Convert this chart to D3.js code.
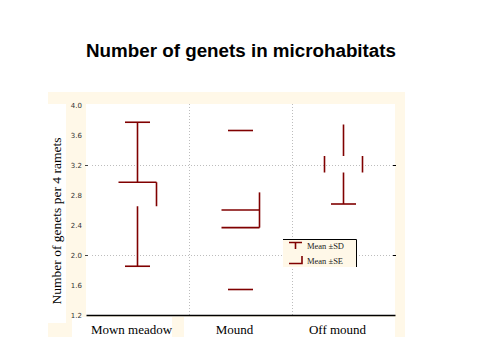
<!DOCTYPE html>
<html><head><meta charset="utf-8">
<script src="https://cdn.jsdelivr.net/npm/d3@7"></script>
<style>body{margin:0;background:#fff}svg{display:block}</style></head><body>
<script>
const categories = ["Mown meadow", "Mound", "Off mound"];
const means = [2.81, 2.60, 3.21];
const sds = [0.96, 1.06, 0.53];
const ses = [0.16, 0.235, 0.11];
const yTicks = [4.0, 3.6, 3.2, 2.8, 2.4, 2.0, 1.6, 1.2];
const gridValues = [3.2, 2.0];
const legendLabels = ["Mean ±SD", "Mean ±SE"];
const titleText = "Number of genets in microhabitats";
const yTitle = "Number of genets per 4 ramets";

// which pieces of each box are visible (as in the reference rendering)
const pieces = [
  ["topCap", "upperWhisker", "boxTop", "boxRight", "lowerWhisker", "bottomCap"],
  ["topCap", "bottomCap", "meanLine", "boxBottom", "boxRight"],
  ["upperWhisker", "boxLeft", "boxRight", "lowerWhisker", "bottomCap"]
];

const W = 480, H = 360;
const cream = "#fff8e8", red = "#800000";
const svg = d3.select("body").append("svg").attr("width", W).attr("height", H);

const pLeft = 86, pRight = 395, pTop = 104, pBottom = 315;
const x = d3.scaleBand().domain(categories).range([pLeft, pRight]).padding(0);
const y = d3.scaleLinear().domain([1.2, 4.0]).range([pBottom, 105]);

// background frame
svg.append("rect").attr("x", 48).attr("y", 92).attr("width", 357).attr("height", 245).attr("fill", cream);
svg.append("rect").attr("x", pLeft).attr("y", pTop).attr("width", pRight - pLeft).attr("height", pBottom - pTop + 1).attr("fill", "#fff");
svg.append("rect").attr("x", 48).attr("y", pTop).attr("width", 18).attr("height", 219).attr("fill", "#fff");
// label boxes
[[72, 172], [184, 292], [292, 395]].forEach(([a, b]) => {
  svg.append("rect").attr("x", a).attr("y", pBottom + 2).attr("width", b - a).attr("height", 25).attr("fill", "#fff");
});

// title
svg.append("text").attr("x", 241).attr("y", 57).attr("text-anchor", "middle")
  .attr("font-family", "Liberation Sans, Arial, sans-serif").attr("font-weight", "bold")
  .attr("font-size", 18.8).text(titleText);

// grid
const grid = svg.append("g").attr("stroke", "#bdbdbd").attr("stroke-width", 1).attr("stroke-dasharray", "1,2");
gridValues.forEach(v => {
  grid.append("line").attr("x1", pLeft + 6).attr("x2", pRight).attr("y1", Math.round(y(v)) + 0.5).attr("y2", Math.round(y(v)) + 0.5);
});
categories.slice(1).forEach(c => {
  const xx = Math.round(x(c)) + 0.5;
  grid.append("line").attr("x1", xx).attr("x2", xx).attr("y1", pTop).attr("y2", pBottom);
});
// small tick marks
gridValues.forEach(v => {
  svg.append("line").attr("x1", 85).attr("x2", 88).attr("y1", Math.round(y(v)) + 0.5).attr("y2", Math.round(y(v)) + 0.5).attr("stroke", "#444");
  svg.append("line").attr("x1", pRight - 2).attr("x2", pRight + 1).attr("y1", Math.round(y(v)) + 0.5).attr("y2", Math.round(y(v)) + 0.5).attr("stroke", "#000");
});

// y axis labels
const ya = svg.append("g").attr("transform", `translate(82,0)`)
  .call(d3.axisLeft(y).tickValues(yTicks).tickSize(0).tickPadding(0).tickFormat(d3.format(".1f")));
ya.select(".domain").remove();
ya.selectAll("text").attr("font-family", "DejaVu Sans, sans-serif").attr("font-size", 7).attr("fill", "#333");

// x axis
const xa = svg.append("g").attr("transform", `translate(0,${pBottom})`)
  .call(d3.axisBottom(x).tickSize(0).tickSizeOuter(0).tickPadding(10));
xa.select(".domain").attr("stroke", "#000").attr("stroke-width", 1.5);
xa.selectAll("text").attr("font-family", "Liberation Serif, Times New Roman, serif").attr("font-size", 13)
  .attr("fill", "#000").attr("dx", -6);

// y title
svg.append("text").attr("transform", `translate(61,221) rotate(-90)`).attr("text-anchor", "middle")
  .attr("font-family", "Liberation Serif, Times New Roman, serif").attr("font-size", 13.5).text(yTitle);

// boxes
const boxHalf = 19, capHalf = 12.5;
const g = svg.append("g").attr("stroke", red).attr("stroke-width", 1.6).attr("fill", "none");
categories.forEach((c, i) => {
  const cx = x(c) + x.bandwidth() / 2;
  const m = means[i], sd = sds[i], se = ses[i];
  const yTop = y(m + sd), yBot = y(m - sd), bTop = y(m + se), bBot = y(m - se), yM = y(m);
  const seg = {
    topCap: [cx - capHalf, yTop, cx + capHalf, yTop],
    bottomCap: [cx - capHalf, yBot, cx + capHalf, yBot],
    upperWhisker: [cx, yTop, cx, bTop],
    lowerWhisker: [cx, bBot, cx, yBot],
    boxTop: [cx - boxHalf, bTop, cx + boxHalf, bTop],
    boxBottom: [cx - boxHalf, bBot, cx + boxHalf, bBot],
    boxLeft: [cx - boxHalf, bTop, cx - boxHalf, bBot],
    boxRight: [cx + boxHalf, bTop, cx + boxHalf, bBot],
    meanLine: [cx - boxHalf, yM, cx + boxHalf, yM]
  };
  pieces[i].forEach(p => {
    const s = seg[p];
    g.append("line").attr("x1", s[0]).attr("y1", s[1]).attr("x2", s[2]).attr("y2", s[3]);
  });
});

// legend
const lg = svg.append("g").attr("transform", "translate(283,239)");
lg.append("rect").attr("width", 73).attr("height", 28).attr("fill", cream);
lg.append("path").attr("d", "M0,0.5H73.5V28").attr("stroke", "#000").attr("fill", "none");
lg.append("path").attr("d", "M6,3.5H19M12.5,3.5V10").attr("stroke", red).attr("stroke-width", 1.6).attr("fill", "none");
lg.append("path").attr("d", "M6,24.5H19V17").attr("stroke", red).attr("stroke-width", 1.6).attr("fill", "none");
legendLabels.forEach((t, i) => {
  lg.append("text").attr("x", 24).attr("y", 10 + i * 15).attr("font-family", "Liberation Serif, serif")
    .attr("font-size", 8.5).attr("fill", "#222").text(t);
});
</script>
</body></html>
